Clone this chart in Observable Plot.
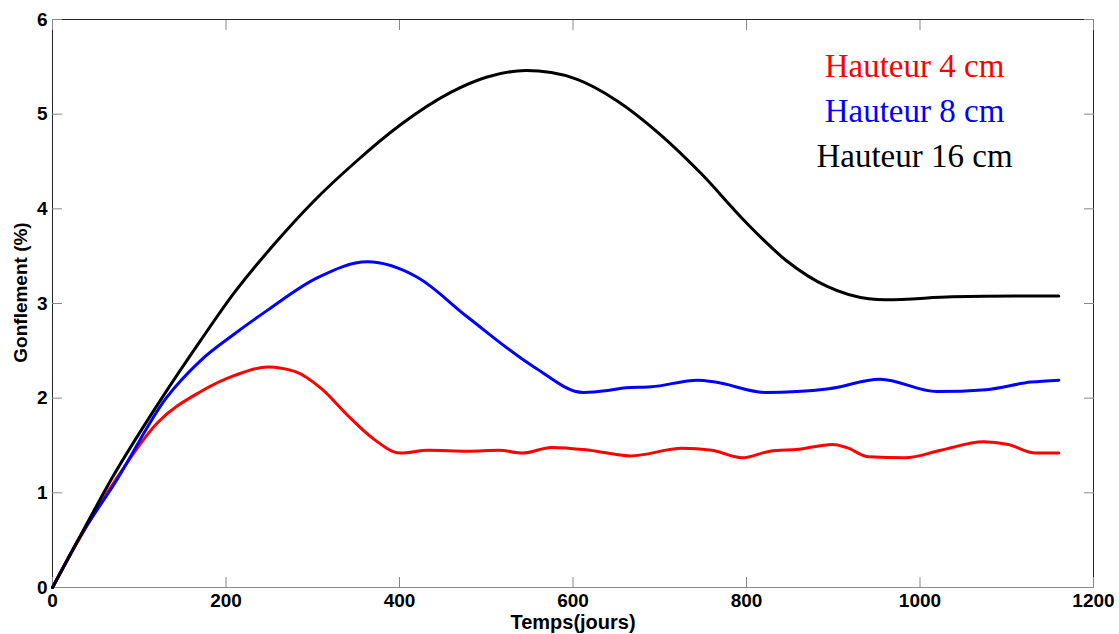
<!DOCTYPE html>
<html>
<head>
<meta charset="utf-8">
<script src="https://cdn.jsdelivr.net/npm/d3@7"></script>
<script src="https://cdn.jsdelivr.net/npm/@observablehq/plot@0.6"></script>
<style>
  html, body { margin: 0; padding: 0; background: #fff; }
  #chart svg { display: block; }
</style>
</head>
<body>
<div id="chart"></div>
<script>
// Series names and colours
const seriesNames = ["Hauteur 4 cm", "Hauteur 8 cm", "Hauteur 16 cm"];
const seriesColors = ["#ff0000", "#0000ff", "#000000"];

// Hauteur 4 cm (red)
const days4 = [0, 30, 73, 121, 171, 210, 248, 280, 310, 340, 370, 401, 433, 479, 515, 542, 575, 619, 666, 726, 760, 795, 827, 860, 899, 915, 941, 983, 1024, 1073, 1102, 1133, 1160];
const gonf4 = [0, 0.5, 1.14, 1.74, 2.07, 2.24, 2.33, 2.28, 2.1, 1.82, 1.57, 1.42, 1.45, 1.44, 1.45, 1.42, 1.48, 1.45, 1.39, 1.47, 1.45, 1.37, 1.44, 1.46, 1.51, 1.48, 1.38, 1.37, 1.45, 1.54, 1.51, 1.42, 1.42];

// Hauteur 8 cm (blue)
const days8 = [0, 30, 73, 131, 171, 210, 248, 305, 363, 420, 478, 555, 612, 640, 661, 690, 744, 764, 822, 895, 954, 1019, 1076, 1128, 1160];
const gonf8 = [0, 0.51, 1.12, 2.0, 2.4, 2.68, 2.93, 3.27, 3.44, 3.28, 2.86, 2.33, 2.06, 2.08, 2.11, 2.12, 2.19, 2.17, 2.06, 2.10, 2.20, 2.07, 2.09, 2.17, 2.19];

// Hauteur 16 cm (black)
const days16 = [0, 30, 67, 126, 170, 210, 255, 300, 350, 400, 459, 500, 546, 575, 604, 651, 700, 748, 797, 845, 893, 941, 960, 1037, 1110, 1160];
const gonf16 = [0, 0.51, 1.13, 2.0, 2.6, 3.12, 3.62, 4.07, 4.5, 4.88, 5.23, 5.39, 5.46, 5.44, 5.37, 5.14, 4.79, 4.37, 3.88, 3.46, 3.18, 3.05, 3.04, 3.07, 3.08, 3.08];

// Axis ticks and labels
const xTicks = [0, 200, 400, 600, 800, 1000, 1200];
const yTicks = [0, 1, 2, 3, 4, 5, 6];
const xLabel = "Temps(jours)";
const yLabel = "Gonflement (%)";

const allDays = [days4, days8, days16];
const allGonf = [gonf4, gonf8, gonf16];
const rows = seriesNames.flatMap((name, i) =>
  allDays[i].map((d, j) => ({ serie: name, day: d, gonf: allGonf[i][j] }))
);

const legendMarks = seriesNames.map((name, i) =>
  Plot.text([name], {
    frameAnchor: "top-right",
    dx: -179,
    dy: 47 + i * 45,
    text: d => d,
    fill: seriesColors[i],
    fontFamily: "'Liberation Serif', 'Times New Roman', serif",
    fontSize: 33,
    fontWeight: "normal",
    textAnchor: "middle",
    lineAnchor: "middle"
  })
);

const fmt = d => String(d);

const chart = Plot.plot({
  width: 1119,
  height: 634,
  marginLeft: 52,
  marginRight: 26,
  marginTop: 19,
  marginBottom: 47,
  style: {
    fontFamily: "'Liberation Sans', Arial, sans-serif",
    fontSize: "19px",
    fontWeight: "bold",
    color: "#000",
    background: "#fff"
  },
  x: { domain: [0, 1200] },
  y: { domain: [0, 6] },
  color: { domain: seriesNames, range: seriesColors },
  marks: [
    Plot.frame({ stroke: "#262626" }),
    Plot.ruleY([0], { stroke: "#888" }),
    // inward ticks on all four sides
    Plot.axisX(xTicks, { anchor: "bottom", tickSize: 10, dy: -10, fill: null, label: null, stroke: "#888" }),
    Plot.axisX(xTicks, { anchor: "top", tickSize: 10, dy: 10, fill: null, label: null, stroke: "#888" }),
    Plot.axisY(yTicks, { anchor: "left", tickSize: 10, dx: 10, fill: null, label: null, stroke: "#888" }),
    Plot.axisY(yTicks, { anchor: "right", tickSize: 10, dx: -10, fill: null, label: null, stroke: "#888" }),
    // tick labels
    Plot.axisX(xTicks, { anchor: "bottom", tickSize: 0, tickPadding: 6, label: null, tickFormat: fmt, fontSize: 19, fontWeight: "bold" }),
    Plot.axisY(yTicks, { anchor: "left", tickSize: 0, tickPadding: 5, label: null, tickFormat: fmt, fontSize: 19, fontWeight: "bold" }),
    // axis titles
    Plot.text([xLabel], { frameAnchor: "bottom", dy: 35, text: d => d, lineAnchor: "middle", fontSize: 20, fontWeight: "bold" }),
    Plot.text([yLabel], { frameAnchor: "left", dx: -32, dy: -11, text: d => d, rotate: -90, textAnchor: "middle", lineAnchor: "middle", fontSize: 19, fontWeight: "bold" }),
    // curves
    Plot.line(rows, { x: "day", y: "gonf", z: "serie", stroke: "serie", strokeWidth: 3, curve: "monotone-x" }),
    ...legendMarks
  ]
});

document.getElementById("chart").appendChild(chart);
</script>
</body>
</html>
